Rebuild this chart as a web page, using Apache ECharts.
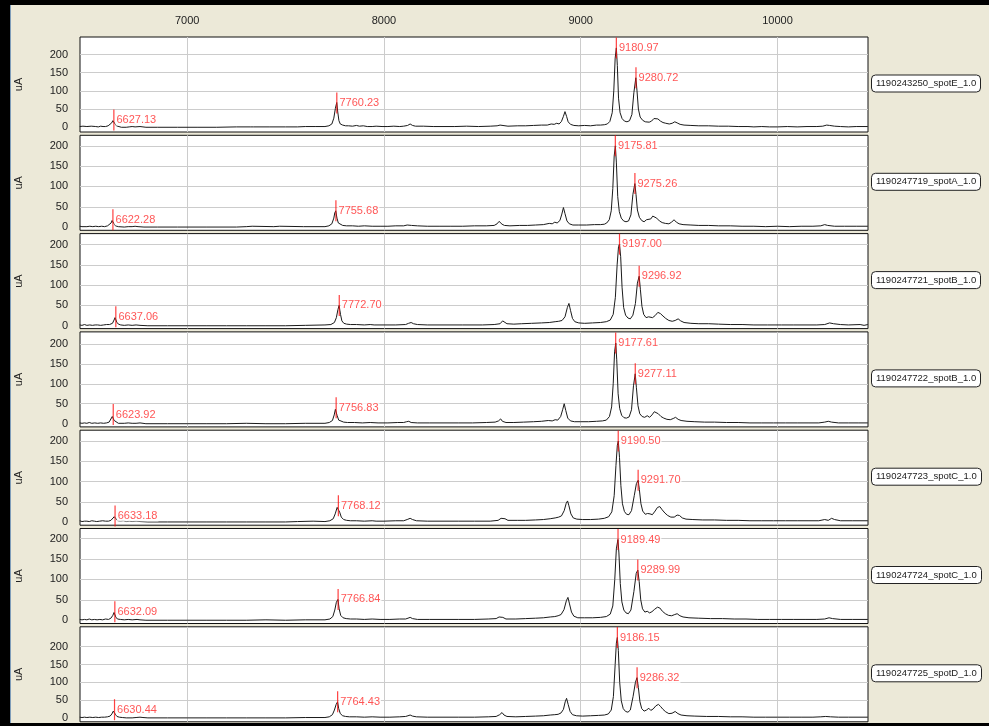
<!DOCTYPE html>
<html>
<head>
<meta charset="utf-8">
<script src="https://cdn.jsdelivr.net/npm/echarts@6/dist/echarts.min.js"></script>
<style>
  html, body { margin: 0; padding: 0; background: #ECE9D8; }
  #chart { width: 989px; height: 726px; }
</style>
</head>
<body>
<div id="chart"></div>
<script>
// ---------- data ----------
const sampleNames = [
  '1190243250_spotE_1.0',
  '1190247719_spotA_1.0',
  '1190247721_spotB_1.0',
  '1190247722_spotB_1.0',
  '1190247723_spotC_1.0',
  '1190247724_spotC_1.0',
  '1190247725_spotD_1.0'
];
const xTicks = [7000, 8000, 9000, 10000];
const yTicks = [0, 50, 100, 150, 200];
const yMinByPanel = [-13, -8, -7, -8, -8, -8, -11];
const yMaxByPanel = [248, 226, 227, 230, 227, 225, 256];

const spectrum1 = [[6454,2],[6462,1],[6470,3],[6478,1],[6490,2],[6500,1],[6512,3],[6522,1],[6535,2],[6548,1],[6560,3],[6572,2],[6585,2],[6598,4],[6608,6],[6616,12],[6622,18],[6627,20],[6632,10],[6640,4],[6650,2],[6665,0],[6690,0],[6705,1],[6720,2],[6735,1],[6745,2],[6760,2],[6775,1],[6790,0],[6850,0],[6950,0],[7050,0],[7150,0],[7250,1],[7320,1],[7330,3],[7338,1],[7420,1],[7500,1],[7560,1],[7600,2],[7650,2],[7700,2],[7720,4],[7735,9],[7745,25],[7753,52],[7760,68],[7765,42],[7771,18],[7778,9],[7790,6],[7805,4],[7820,4],[7840,3],[7860,5],[7875,3],[7895,4],[7915,2],[7940,2],[7960,3],[7990,2],[8020,2],[8050,3],[8080,2],[8100,3],[8120,5],[8133,9],[8145,5],[8160,3],[8200,3],[8250,2],[8300,2],[8360,2],[8420,3],[8480,2],[8540,3],[8575,4],[8590,6],[8600,4],[8630,3],[8680,4],[8720,4],[8760,5],[8800,6],[8830,6],[8850,9],[8865,8],[8878,11],[8890,9],[8902,16],[8912,30],[8920,43],[8928,30],[8936,15],[8948,8],[8965,5],[8990,4],[9020,5],[9050,4],[9080,6],[9100,6],[9120,7],[9135,9],[9148,16],[9160,40],[9168,100],[9175,190],[9181,218],[9186,170],[9192,80],[9200,40],[9210,24],[9222,17],[9235,15],[9248,18],[9260,35],[9270,95],[9280,136],[9286,100],[9293,50],[9302,28],[9315,19],[9328,15],[9338,18],[9348,14],[9360,17],[9372,24],[9382,27],[9392,23],[9405,17],[9418,13],[9432,11],[9450,9],[9465,11],[9478,15],[9490,12],[9505,8],[9525,6],[9560,5],[9600,4],[9650,4],[9700,3],[9750,3],[9800,2],[9850,2],[9880,1],[9920,2],[9960,1],[10000,1],[10050,2],[10100,1],[10150,2],[10200,2],[10230,3],[10250,6],[10265,5],[10290,3],[10320,2],[10360,1],[10400,2],[10459,2]];
const spectrum2 = [[6454,2],[6465,1],[6475,2],[6490,1],[6505,2],[6520,1],[6535,2],[6550,1],[6565,2],[6580,1],[6595,3],[6605,5],[6613,10],[6618,16],[6622,18],[6627,9],[6635,3],[6650,1],[6680,0],[6700,1],[6720,1],[6735,2],[6750,1],[6780,0],[6850,0],[6950,0],[7100,0],[7250,0],[7300,1],[7330,2],[7340,0],[7440,1],[7470,2],[7480,0],[7590,1],[7700,1],[7720,3],[7735,8],[7745,22],[7750,35],[7755,40],[7761,22],[7768,10],[7778,6],[7790,4],[7810,3],[7840,3],[7870,2],[7900,3],[7940,2],[7980,2],[8020,2],[8060,3],[8100,3],[8118,5],[8128,8],[8140,4],[8170,3],[8220,2],[8280,2],[8340,2],[8400,2],[8460,3],[8520,3],[8560,4],[8575,8],[8585,14],[8592,15],[8600,7],[8612,4],[8640,3],[8690,4],[8730,4],[8770,5],[8810,6],[8840,9],[8855,8],[8868,12],[8880,10],[8894,16],[8904,32],[8912,48],[8920,33],[8930,15],[8942,8],[8960,5],[8990,5],[9030,5],[9070,6],[9100,6],[9120,7],[9132,10],[9145,18],[9155,40],[9163,95],[9170,175],[9176,200],[9181,160],[9188,75],[9196,38],[9206,22],[9218,15],[9230,13],[9243,15],[9255,30],[9265,80],[9275,107],[9281,80],[9288,42],[9298,24],[9310,16],[9322,13],[9334,18],[9344,14],[9356,20],[9366,27],[9376,29],[9386,22],[9400,15],[9414,11],[9430,9],[9448,8],[9462,12],[9474,18],[9486,12],[9500,8],[9520,6],[9560,5],[9600,4],[9650,4],[9700,3],[9760,3],[9820,2],[9880,2],[9940,1],[10000,2],[10060,1],[10120,2],[10180,2],[10220,3],[10240,6],[10255,4],[10290,2],[10340,2],[10400,2],[10459,2]];
const spectrum3 = [[6454,2],[6465,1],[6478,3],[6490,1],[6505,2],[6518,1],[6532,2],[6545,2],[6560,1],[6575,2],[6590,3],[6605,3],[6620,6],[6628,14],[6633,20],[6637,22],[6642,9],[6650,4],[6662,2],[6680,1],[6700,2],[6720,1],[6740,2],[6760,1],[6800,0],[6900,0],[7000,0],[7100,0],[7200,0],[7300,0],[7400,0],[7500,0],[7600,1],[7700,2],[7730,3],[7748,8],[7758,20],[7766,40],[7772,50],[7779,28],[7786,12],[7796,6],[7810,4],[7830,3],[7860,3],[7900,2],[7930,3],[7950,2],[8000,2],[8060,2],[8110,3],[8125,6],[8138,8],[8150,5],[8170,3],[8220,2],[8300,2],[8400,2],[8500,2],[8560,3],[8590,5],[8603,12],[8612,8],[8625,5],[8660,4],[8700,5],[8750,6],[8800,7],[8840,8],[8870,10],[8888,11],[8905,13],[8920,22],[8932,45],[8940,55],[8948,38],[8958,18],[8970,10],[8990,7],[9020,6],[9060,7],[9100,8],[9130,10],[9150,14],[9165,28],[9176,70],[9185,150],[9192,195],[9197,201],[9203,170],[9210,95],[9218,45],[9228,26],[9240,19],[9252,17],[9265,26],[9278,55],[9288,105],[9297,122],[9303,90],[9311,48],[9320,28],[9332,20],[9345,22],[9355,26],[9365,20],[9378,25],[9392,33],[9405,30],[9418,24],[9432,18],[9448,13],[9465,11],[9480,13],[9495,17],[9508,12],[9525,8],[9560,6],[9600,5],[9650,5],[9700,4],[9760,3],[9820,3],[9880,2],[9950,2],[10020,2],[10080,2],[10150,2],[10200,2],[10240,3],[10265,7],[10285,5],[10320,3],[10360,2],[10420,3],[10440,1],[10459,3]];
const spectrum4 = [[6454,2],[6465,1],[6478,2],[6490,1],[6502,3],[6515,1],[6530,2],[6545,1],[6560,2],[6575,1],[6590,2],[6603,4],[6612,9],[6619,18],[6624,23],[6629,8],[6638,3],[6650,1],[6680,1],[6700,2],[6720,1],[6740,1],[6760,2],[6790,0],[6900,0],[7000,0],[7100,0],[7200,0],[7300,1],[7400,0],[7500,0],[7600,1],[7700,1],[7722,3],[7738,8],[7747,22],[7753,36],[7757,40],[7762,20],[7770,9],[7780,5],[7795,4],[7815,3],[7850,3],[7890,2],[7930,3],[7970,2],[8020,2],[8070,3],[8100,3],[8115,5],[8126,6],[8138,3],[8170,2],[8230,2],[8300,2],[8380,2],[8450,2],[8520,3],[8565,4],[8582,7],[8593,12],[8602,6],[8620,3],[8660,3],[8710,4],[8760,5],[8800,6],[8835,8],[8855,7],[8870,10],[8883,9],[8898,18],[8908,35],[8916,50],[8924,33],[8934,14],[8948,7],[8968,5],[9000,5],[9040,5],[9080,6],[9110,7],[9130,9],[9146,18],[9157,42],[9165,100],[9172,180],[9178,202],[9183,160],[9190,75],[9198,38],[9208,21],[9220,15],[9232,14],[9246,17],[9258,35],[9268,95],[9277,125],[9283,90],[9291,45],[9300,25],[9312,18],[9325,16],[9338,20],[9350,16],[9362,22],[9374,30],[9384,31],[9394,25],[9408,18],[9422,14],[9438,11],[9455,10],[9470,13],[9482,16],[9495,11],[9510,8],[9540,6],[9580,5],[9630,4],[9680,4],[9740,3],[9800,3],[9860,2],[9920,2],[9980,2],[10040,2],[10100,2],[10160,2],[10210,2],[10240,4],[10258,6],[10275,4],[10310,2],[10360,2],[10410,2],[10459,2]];
const spectrum5 = [[6454,3],[6465,1],[6478,2],[6490,2],[6502,1],[6515,3],[6528,2],[6540,1],[6555,2],[6570,3],[6585,2],[6600,2],[6612,4],[6622,8],[6629,13],[6633,15],[6638,8],[6646,3],[6660,2],[6675,3],[6690,1],[6705,2],[6720,1],[6740,2],[6760,1],[6800,0],[6900,0],[7000,0],[7100,0],[7200,0],[7300,0],[7400,0],[7500,0],[7560,1],[7640,2],[7650,0],[7700,1],[7725,3],[7742,8],[7752,20],[7762,36],[7768,40],[7775,24],[7783,12],[7795,6],[7810,4],[7830,3],[7860,3],[7900,2],[7940,3],[7960,2],[8000,2],[8060,3],[8100,3],[8118,6],[8133,9],[8145,6],[8165,3],[8220,2],[8300,2],[8380,2],[8460,2],[8540,2],[8580,4],[8595,9],[8605,13],[8615,8],[8630,4],[8680,4],[8720,4],[8770,5],[8810,6],[8845,8],[8870,10],[8888,12],[8902,15],[8916,28],[8926,46],[8933,52],[8940,40],[8950,20],[8962,10],[8980,7],[9010,6],[9050,6],[9090,7],[9120,9],[9142,13],[9158,25],[9170,65],[9179,140],[9186,190],[9191,200],[9197,160],[9204,90],[9212,45],[9222,26],[9233,19],[9245,18],[9258,28],[9272,65],[9283,95],[9292,103],[9298,80],[9306,45],[9315,27],[9328,19],[9340,21],[9352,20],[9364,18],[9378,27],[9390,36],[9402,38],[9414,30],[9428,22],[9442,16],[9458,12],[9475,12],[9490,17],[9502,16],[9516,10],[9535,7],[9570,6],[9620,5],[9680,5],[9740,4],[9800,4],[9860,3],[9920,3],[9980,3],[10040,3],[10100,3],[10160,3],[10210,3],[10240,6],[10258,4],[10275,9],[10290,6],[10320,3],[10380,3],[10459,3]];
const spectrum6 = [[6454,2],[6465,1],[6478,2],[6490,1],[6502,3],[6515,1],[6528,2],[6542,1],[6556,2],[6570,1],[6585,3],[6600,2],[6612,5],[6622,12],[6628,19],[6632,21],[6637,8],[6645,3],[6660,2],[6680,1],[6700,2],[6720,1],[6745,2],[6760,1],[6790,0],[6900,0],[7000,0],[7100,0],[7200,0],[7300,0],[7400,1],[7500,0],[7600,1],[7700,1],[7725,3],[7740,9],[7750,25],[7758,44],[7766,51],[7772,28],[7780,12],[7792,6],[7808,4],[7830,3],[7860,3],[7900,2],[7940,3],[7980,2],[8030,2],[8080,3],[8110,3],[8122,5],[8133,7],[8145,4],[8170,2],[8230,2],[8300,2],[8380,2],[8460,2],[8530,3],[8570,4],[8585,8],[8595,12],[8604,7],[8620,3],[8670,3],[8720,4],[8770,5],[8810,6],[8845,8],[8868,9],[8885,11],[8900,14],[8915,26],[8927,48],[8935,56],[8943,40],[8953,20],[8965,10],[8985,6],[9020,6],[9060,6],[9100,7],[9130,9],[9150,15],[9163,35],[9173,100],[9181,175],[9189,198],[9194,165],[9201,90],[9209,45],[9219,25],[9230,18],[9242,16],[9255,25],[9270,70],[9282,115],[9290,123],[9297,95],[9305,50],[9314,28],[9326,20],[9338,22],[9350,18],[9362,21],[9376,27],[9390,32],[9402,30],[9415,22],[9430,16],[9446,12],[9462,11],[9478,14],[9490,16],[9504,11],[9520,8],[9550,6],[9600,5],[9660,4],[9720,4],[9780,3],[9840,3],[9900,2],[9960,2],[10020,2],[10080,2],[10140,2],[10200,2],[10240,3],[10262,6],[10280,4],[10320,2],[10380,2],[10459,2]];
const spectrum7 = [[6454,2],[6465,1],[6478,2],[6490,1],[6505,2],[6520,1],[6535,2],[6550,1],[6565,2],[6580,2],[6595,3],[6608,5],[6617,11],[6624,19],[6630,23],[6635,10],[6643,4],[6655,2],[6670,1],[6690,0],[6720,0],[6740,1],[6760,2],[6775,1],[6800,0],[6900,0],[7000,0],[7100,0],[7200,0],[7300,0],[7400,0],[7500,0],[7600,1],[7700,1],[7722,3],[7738,9],[7748,22],[7757,38],[7764,45],[7770,26],[7778,12],[7790,6],[7805,4],[7825,3],[7860,3],[7900,2],[7940,3],[7980,2],[8030,2],[8080,3],[8110,4],[8122,6],[8133,8],[8145,5],[8165,3],[8220,2],[8300,2],[8380,2],[8460,2],[8530,3],[8570,4],[8588,9],[8600,15],[8610,8],[8625,4],[8670,3],[8720,4],[8770,5],[8810,6],[8845,8],[8868,9],[8885,10],[8900,14],[8912,24],[8921,45],[8928,55],[8936,38],[8946,18],[8958,9],[8978,6],[9010,5],[9050,6],[9090,7],[9120,8],[9140,11],[9155,22],[9166,60],[9175,150],[9181,210],[9186,226],[9191,190],[9198,100],[9206,48],[9216,26],[9228,18],[9240,16],[9252,22],[9266,60],[9278,100],[9286,113],[9293,85],[9301,45],[9310,26],[9322,19],[9334,22],[9346,27],[9356,21],[9368,25],[9382,34],[9395,38],[9406,32],[9418,24],[9432,17],[9448,12],[9464,13],[9480,18],[9494,12],[9510,8],[9540,6],[9580,5],[9640,4],[9700,4],[9760,3],[9820,3],[9880,2],[9940,2],[10000,2],[10060,2],[10120,2],[10180,2],[10220,3],[10245,4],[10270,3],[10310,2],[10360,2],[10459,2]];

const peaks1 = [[6627.13,20],[7760.23,67],[9180.97,218],[9280.72,136]];
const peaks2 = [[6622.28,18],[7755.68,40],[9175.81,200],[9275.26,107]];
const peaks3 = [[6637.06,22],[7772.70,50],[9197.00,201],[9296.92,122]];
const peaks4 = [[6623.92,23],[7756.83,40],[9177.61,202],[9277.11,125]];
const peaks5 = [[6633.18,15],[7768.12,40],[9190.50,200],[9291.70,103]];
const peaks6 = [[6632.09,21],[7766.84,51],[9189.49,198],[9289.99,123]];
const peaks7 = [[6630.44,23],[7764.43,45],[9186.15,226],[9286.32,113]];

const spectra = [spectrum1, spectrum2, spectrum3, spectrum4, spectrum5, spectrum6, spectrum7];
const peakLists = [peaks1, peaks2, peaks3, peaks4, peaks5, peaks6, peaks7];

// ---------- layout ----------
const FONT = '"Liberation Sans", Arial, sans-serif';
const PANEL_TOP = 37, PANEL_PITCH = 98.3, PANEL_H = 95;
const PLOT_LEFT = 80, PLOT_W = 788;

const grid = [], xAxis = [], yAxis = [], series = [], title = [];
sampleNames.forEach((name, i) => {
  const top = PANEL_TOP + i * PANEL_PITCH;
  grid.push({
    left: PLOT_LEFT, width: PLOT_W, top: top, height: PANEL_H,
    show: true, backgroundColor: '#ffffff', borderColor: '#111', borderWidth: 1
  });
  xAxis.push({
    type: 'value', gridIndex: i, min: 6455, max: 10460, interval: 5,
    position: 'top',
    axisLine: { show: false }, axisTick: { show: false }, splitLine: { show: false },
    axisLabel: {
      show: i === 0, margin: 11, color: '#222', fontSize: 11, fontFamily: FONT,
      formatter: v => (xTicks.indexOf(v) >= 0 ? String(v) : '')
    }
  });
  yAxis.push({
    type: 'value', gridIndex: i, min: yMinByPanel[i], max: yMaxByPanel[i], interval: 1,
    name: 'uA', nameLocation: 'middle', nameRotate: 90, nameGap: 56,
    nameTextStyle: { color: '#222', fontSize: 11, fontFamily: FONT },
    axisLine: { show: false }, axisTick: { show: false }, splitLine: { show: false },
    axisLabel: {
      margin: 12, color: '#222', fontSize: 11, fontFamily: FONT,
      formatter: v => (yTicks.indexOf(v) >= 0 ? String(v) : '')
    }
  });
  // grid lines
  series.push({
    type: 'line', xAxisIndex: i, yAxisIndex: i, data: [], silent: true, animation: false,
    markLine: {
      silent: true, animation: false, z: 1, symbol: ['none', 'none'],
      label: { show: false },
      lineStyle: { color: '#cccccc', width: 1, type: 'solid' },
      emphasis: { disabled: true },
      data: xTicks.map(v => ({ xAxis: v })).concat(yTicks.filter(v => v > 0).map(v => ({ yAxis: v })))
    }
  });
  // spectrum
  series.push({
    type: 'line', xAxisIndex: i, yAxisIndex: i, data: spectra[i], z: 3,
    showSymbol: false, symbol: 'none', animation: false, silent: true, clip: true,
    lineStyle: { color: '#1a1a1a', width: 1 }
  });
  // labelled peaks
  series.push({
    type: 'scatter', xAxisIndex: i, yAxisIndex: i, data: peakLists[i], z: 4,
    symbol: 'rect', symbolSize: [1.2, 21], animation: false, silent: true,
    itemStyle: { color: '#ff1010' },
    label: {
      show: true, position: 'right', distance: 1,
      formatter: p => p.value[0].toFixed(2),
      color: '#ff2a2a', fontSize: 11, fontFamily: FONT,
      backgroundColor: '#ffffff', padding: [0, 1]
    }
  });
  title.push({
    text: name, left: 871, top: top + PANEL_H / 2 - 10,
    padding: [4, 5], backgroundColor: '#ffffff',
    borderColor: '#222', borderWidth: 1, borderRadius: 4,
    textStyle: { fontSize: 9.5, fontWeight: 'normal', color: '#222', fontFamily: FONT }
  });
});

const chart = echarts.init(document.getElementById('chart'), null, { renderer: 'canvas' });
chart.setOption({
  backgroundColor: '#ECE9D8',
  animation: false,
  title: title,
  grid: grid,
  xAxis: xAxis,
  yAxis: yAxis,
  series: series,
  graphic: [
    { type: 'rect', left: 0, top: 0, shape: { width: 989, height: 5 }, style: { fill: '#000' }, silent: true },
    { type: 'rect', left: 0, top: 0, shape: { width: 10, height: 726 }, style: { fill: '#000' }, silent: true },
    { type: 'rect', left: 0, top: 723, shape: { width: 989, height: 3 }, style: { fill: '#000' }, silent: true },
    { type: 'rect', left: 10, top: 5, shape: { width: 1, height: 718 }, style: { fill: '#7f9db9' }, silent: true }
  ]
});
</script>
</body>
</html>
